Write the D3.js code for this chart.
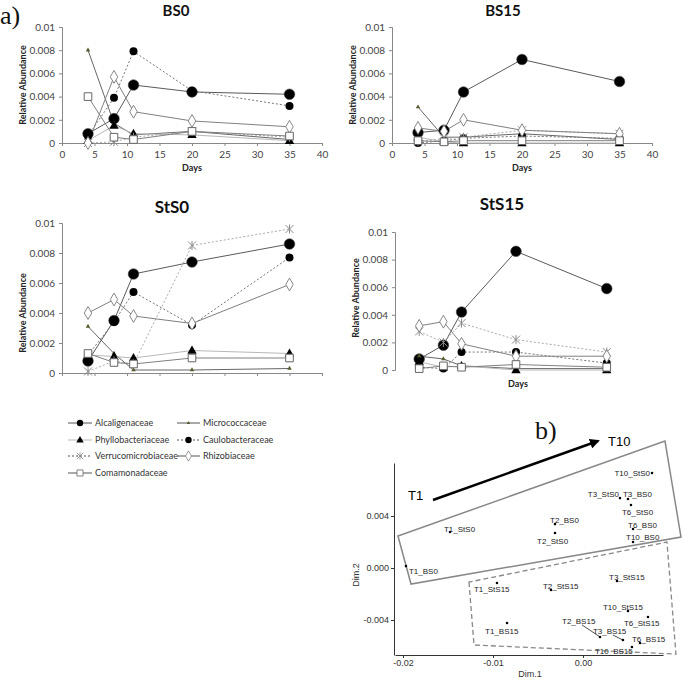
<!DOCTYPE html>
<html><head><meta charset="utf-8">
<script src="https://cdn.jsdelivr.net/npm/d3@7"></script>
<style>body{margin:0;background:#fff} svg{display:block}</style>
</head><body>
<svg id="c" width="685" height="678"></svg>
<script>
// ---------- DATA (panel a) ----------
const days = [4, 8, 11, 20, 35];
const families = ["Alcaligenaceae","Micrococcaceae","Phyllobacteriaceae","Caulobacteraceae","Verrucomicrobiaceae","Rhizobiaceae","Comamonadaceae"];
const bs0 = [
  [0.0008,0.0021,0.0050,0.0044,0.0042],
  [0.0080,0.0017,0.0007,0.0010,0.0003],
  [0.0002,0.0015,0.0008,0.0007,0.0002],
  [0.0006,0.0039,0.0079,0.0045,0.0032],
  [0.0000,0.0001,0.0005,0.0010,0.0005],
  [0.0000,0.0057,0.0027,0.0019,0.0014],
  [0.0040,0.0005,0.0003,0.0010,0.0006]
];
const bs15 = [
  [0.0009,0.0011,0.0044,0.0072,0.0053],
  [0.0031,0.0005,0.0005,0.0008,0.0003],
  [0.0005,0.0001,0.0000,0.0000,0.0000],
  [0.0000,0.0002,0.0004,0.0006,0.0004],
  [0.0001,0.0004,0.0005,0.0011,0.0008],
  [0.0013,0.0010,0.0020,0.0011,0.0008],
  [0.0002,0.0001,0.0002,0.0002,0.0002]
];
const sts0 = [
  [0.0008,0.0035,0.0066,0.0074,0.0086],
  [0.0031,0.0013,0.0002,0.0002,0.0003],
  [0.0012,0.0011,0.0010,0.0015,0.0013],
  [0.0012,0.0034,0.0054,0.0032,0.0077],
  [0.0001,0.0008,0.0006,0.0085,0.0096],
  [0.0040,0.0049,0.0038,0.0033,0.0059],
  [0.0013,0.0007,0.0006,0.0010,0.0010]
];
const sts15 = [
  [0.0008,0.0018,0.0042,0.0086,0.0059],
  [0.0010,0.0008,0.0003,0.0001,0.0001],
  [0.0006,0.0002,0.0003,0.0000,0.0000],
  [0.0002,0.0001,0.0013,0.0013,0.0005],
  [0.0028,0.0020,0.0034,0.0022,0.0013],
  [0.0032,0.0035,0.0019,0.0010,0.0010],
  [0.0001,0.0003,0.0002,0.0004,0.0002]
];
const xTicks = [0,5,10,15,20,25,30,35,40];
const yTicks = [0,0.002,0.004,0.006,0.008,0.01];
const yTickLabels = ["0","0.002","0.004","0.006","0.008","0.01"];

// ---------- DATA (panel b) ----------
const pcoaNames = ["T10_StS0","T3_StS0","T3_BS0","T6_StS0","T2_BS0","T1_StS0","T2_StS0","T6_BS0","T10_BS0","T1_BS0",
  "T3_StS15","T1_StS15","T2_StS15","T10_StS15","T6_StS15","T1_BS15","T2_BS15","T3_BS15","T6_BS15","T10_BS15"];
const pcoaDim1 = [0.00767,0.00411,0.00500,0.00533,-0.00311,-0.01478,-0.00311,0.00556,0.00556,-0.01967,
  0.00378,-0.00956,-0.00356,0.00500,0.00722,-0.00844,0.00189,0.00444,0.00633,0.00544];
const pcoaDim2 = [0.00731,0.00538,0.00531,0.00485,0.00338,0.00277,0.00269,0.00300,0.00200,0.00015,
  -0.00100,-0.00115,-0.00169,-0.00331,-0.00377,-0.00423,-0.00530,-0.00554,-0.00577,-0.00608];
const bXTicks = [-0.02,-0.01,0.00];
const bXTickLabels = ["-0.02","-0.01","0.00"];
const bYTicks = [-0.004,0.000,0.004];
const bYTickLabels = ["-0.004","0.000","0.004"];

// ---------- STYLE ----------
const styles = [
  {line:"#5a5a5a", dash:null,  marker:"bigcircle"},
  {line:"#666",    dash:null,  marker:"tinytri"},
  {line:"#b8b8b8", dash:null,  marker:"tri"},
  {line:"#777",    dash:"2,2", marker:"circle"},
  {line:"#aaa",    dash:"2,2", marker:"star"},
  {line:"#808080", dash:null,  marker:"diamond"},
  {line:"#808080", dash:null,  marker:"square"}
];
const svg = d3.select("#c");
const sans = "Lato, 'Open Sans', 'Liberation Sans', sans-serif";

function drawMarker(g, type, x, y) {
  if (type === "bigcircle") g.append("circle").attr("cx",x).attr("cy",y).attr("r",5.3).attr("fill","#000").attr("stroke","#444").attr("stroke-width",0.6);
  else if (type === "circle") g.append("circle").attr("cx",x).attr("cy",y).attr("r",4).attr("fill","#000");
  else if (type === "tri") g.append("path").attr("d",d3.symbol(d3.symbolTriangle,38)()).attr("transform",`translate(${x},${y+0.5})`).attr("fill","#000");
  else if (type === "tinytri") g.append("path").attr("d",d3.symbol(d3.symbolTriangle,9)()).attr("transform",`translate(${x},${y})`).attr("fill","#5b5a2c");
  else if (type === "diamond") g.append("path").attr("d",d3.symbol(d3.symbolDiamond,48)()).attr("transform",`translate(${x},${y})`).attr("fill","#fff").attr("stroke","#7a7a7a").attr("stroke-width",0.9);
  else if (type === "square") g.append("path").attr("d",d3.symbol(d3.symbolSquare,58)()).attr("transform",`translate(${x},${y})`).attr("fill","#fff").attr("stroke","#666").attr("stroke-width",1);
  else if (type === "star") {
    const s = 4;
    const p = `M${x-s},${y-s}L${x+s},${y+s}M${x-s},${y+s}L${x+s},${y-s}M${x},${y-s-0.5}L${x},${y+s+0.5}`;
    g.append("path").attr("d",p).attr("stroke","#8a8a8a").attr("stroke-width",1).attr("fill","none");
  }
}

function drawPanel(cfg, values) {
  const x = d3.scaleLinear().domain([0,40]).range([cfg.left, cfg.right]);
  const y = d3.scaleLinear().domain([0,0.01]).range([cfg.bottom, cfg.top]);
  const g = svg.append("g");
  const ya = g.append("g").attr("transform",`translate(${cfg.left},0)`)
    .call(d3.axisLeft(y).tickValues(yTicks).tickFormat((d,i)=>yTickLabels[i]).tickSize(3).tickPadding(4));
  const xa = g.append("g").attr("transform",`translate(0,${cfg.bottom})`)
    .call(d3.axisBottom(x).tickValues(xTicks).tickFormat(cfg.xlabels ? d=>d : "").tickSize(3).tickPadding(cfg.xpad || 5));
  [ya, xa].forEach(a => {
    a.select(".domain").attr("stroke","#888");
    a.selectAll(".tick line").attr("stroke","#888");
    a.selectAll("text").attr("font-family",sans).attr("font-size",cfg.tickFont).attr("fill","#444");
  });
  if (cfg.clipX) {
    svg.append("clipPath").attr("id","clipx").append("rect").attr("x",cfg.left-20).attr("y",cfg.bottom-1).attr("width",cfg.right-cfg.left+40).attr("height",cfg.clipX);
    xa.attr("clip-path","url(#clipx)");
  }
  g.append("text").attr("x",cfg.tx).attr("y",cfg.ty).attr("text-anchor","middle").attr("font-family",sans)
    .attr("font-weight","bold").attr("font-size",cfg.titleSize).attr("fill","#111").text(cfg.title);
  g.append("text").attr("transform",`translate(${cfg.yl[0]},${cfg.yl[1]}) rotate(-90)`).attr("text-anchor","middle")
    .attr("font-family",sans).attr("font-weight","bold").attr("font-size",9).attr("fill","#222").text("Relative Abundance");
  if (cfg.days) g.append("text").attr("x",cfg.days[0]).attr("y",cfg.days[1]).attr("text-anchor","middle")
    .attr("font-family",sans).attr("font-weight","bold").attr("font-size",9).attr("fill","#222").text("Days");
  const line = d3.line().x((d,i)=>x(days[i])).y(d=>y(d));
  values.forEach((vals, si) => {
    const st = styles[si];
    g.append("path").attr("d",line(vals)).attr("fill","none").attr("stroke",st.line).attr("stroke-width",1)
      .attr("stroke-dasharray",st.dash);
  });
  values.forEach((vals, si) => {
    vals.forEach((v,i) => drawMarker(g, styles[si].marker, x(days[i]), y(v)));
  });
}

drawPanel({title:"BS0", tx:176, ty:16, titleSize:15, left:62, right:322, top:27, bottom:143, yl:[26,85], xlabels:true, days:[192,171], tickFont:10}, bs0);
drawPanel({title:"BS15", tx:503, ty:16, titleSize:15, left:392, right:652, top:27, bottom:143, yl:[356,85], xlabels:true, days:[522,171], tickFont:10}, bs15);
drawPanel({title:"StS0", tx:172, ty:213, titleSize:17, left:62, right:322, top:223, bottom:373, yl:[26,313], xlabels:false, days:null, tickFont:10}, sts0);
drawPanel({title:"StS15", tx:502, ty:210, titleSize:17, left:395, right:637, top:232, bottom:370, yl:[359,298], xlabels:true, xpad:3, clipX:10, days:[518,387], tickFont:10}, sts15);

// panel labels
svg.append("text").attr("x",0).attr("y",24).attr("font-family","'Liberation Serif', serif").attr("font-size",26).attr("fill","#111").text("a)");
svg.append("text").attr("x",535).attr("y",439).attr("font-family","'Liberation Serif', serif").attr("font-size",26).attr("fill","#111").text("b)");

// legend
const legCols = [[68,92,95],[177,200,203]];
const legRows = [423,440,456,473];
families.forEach((f, i) => {
  const c = legCols[i % 2], r = legRows[Math.floor(i / 2)];
  const st = styles[i];
  const lg = svg.append("g");
  lg.append("line").attr("x1",c[0]).attr("x2",c[1]).attr("y1",r).attr("y2",r).attr("stroke",st.line === "#b8b8b8" ? "#b8b8b8" : "#555")
    .attr("stroke-width",1).attr("stroke-dasharray",st.dash);
  const mt = st.marker === "bigcircle" ? "circle" : st.marker;
  const sg = lg.append("g").attr("transform",`translate(${(c[0]+c[1])/2},${r}) scale(0.8) translate(${-(c[0]+c[1])/2},${-r})`);
  drawMarker(sg, mt, (c[0]+c[1])/2, r);
  lg.append("text").attr("x",c[2]).attr("y",r+3.3).attr("font-family",sans).attr("font-size",9).attr("fill","#333").text(f);
});

// ---------- panel b ----------
const xB = d3.scaleLinear().domain([-0.02089, 0.00889]).range([395, 663]);
const yB = d3.scaleLinear().domain([-0.00669, 0.00808]).range([655, 463]);
const gb = svg.append("g");
const bxa = gb.append("g").attr("transform","translate(0,655)")
  .call(d3.axisBottom(xB).tickValues(bXTicks).tickFormat((d,i)=>bXTickLabels[i]).tickSize(3).tickPadding(2).tickSizeOuter(0));
const bya = gb.append("g").attr("transform","translate(394,0)")
  .call(d3.axisLeft(yB).tickValues(bYTicks).tickFormat((d,i)=>bYTickLabels[i]).tickSize(3).tickPadding(2).tickSizeOuter(0));
[bxa,bya].forEach(a=>{
  a.select(".domain").attr("stroke","#333");
  a.selectAll(".tick line").attr("stroke","#333");
  a.selectAll("text").attr("font-family","'Liberation Sans', Arial, sans-serif").attr("font-size",9).attr("fill","#333");
});
gb.append("text").attr("x",530).attr("y",677).attr("text-anchor","middle").attr("font-family","'Liberation Sans', Arial, sans-serif").attr("font-size",9).attr("fill","#333").text("Dim.1");
gb.append("text").attr("transform","translate(359,575) rotate(-90)").attr("text-anchor","middle").attr("font-family","'Liberation Sans', Arial, sans-serif").attr("font-size",9).attr("fill","#333").text("Dim.2");

// group boxes (annotations in data coordinates)
const solidBox = [[-0.02056,0.00246],[-0.01911,-0.00123],[0.01089,0.00238],[0.00911,0.00977]];
const dashBox = [[-0.01267,-0.00108],[-0.01211,-0.00592],[0.01033,-0.00662],[0.00933,0.00200]];
gb.append("path").attr("d", d3.line().x(d=>xB(d[0])).y(d=>yB(d[1])).curve(d3.curveLinearClosed)(solidBox))
  .attr("fill","none").attr("stroke","#888").attr("stroke-width",1.5);
gb.append("path").attr("d", d3.line().x(d=>xB(d[0])).y(d=>yB(d[1])).curve(d3.curveLinearClosed)(dashBox))
  .attr("fill","none").attr("stroke","#888").attr("stroke-width",1.3).attr("stroke-dasharray","5,3");

// arrow T1 -> T10
svg.append("defs").append("marker").attr("id","ah").attr("viewBox","0 0 10 10").attr("refX",8).attr("refY",5)
  .attr("markerWidth",4).attr("markerHeight",4).attr("orient","auto")
  .append("path").attr("d","M0,0L10,5L0,10z").attr("fill","#000");
gb.append("line").attr("x1",433).attr("y1",500).attr("x2",598).attr("y2",441).attr("stroke","#000").attr("stroke-width",2.5).attr("marker-end","url(#ah)");
gb.append("text").attr("x",408).attr("y",500).attr("font-family","'Liberation Sans', Arial, sans-serif").attr("font-size",13).attr("fill","#000").text("T1");
gb.append("text").attr("x",608).attr("y",446).attr("font-family","'Liberation Sans', Arial, sans-serif").attr("font-size",13).attr("fill","#000").text("T10");

// label offsets (layout only)
const labelOffsets = [[-2,3,"end"],[-1,-1,"end"],[-5,-2,"start"],[-9,10,"start"],[-5,-1,"start"],[-6,0,"start"],[-18,11,"start"],[-5,-1,"start"],[-7,-2,"start"],[3,8,"start"],
  [-8,-1,"start"],[-23,9,"start"],[-8,-1,"start"],[-25,-1,"start"],[-24,9,"start"],[-22,11,"start"],[-38,-13,"start"],[-30,-6,"start"],[-8,-1,"start"],[-37,7,"start"]];
const leaders = {"T2_BS15":[-18,-12],"T3_BS15":[-10,-5]};
pcoaNames.forEach((n,i)=>{
  const px = xB(pcoaDim1[i]), py = yB(pcoaDim2[i]);
  if (leaders[n]) gb.append("line").attr("x1",px+leaders[n][0]).attr("y1",py+leaders[n][1]).attr("x2",px).attr("y2",py).attr("stroke","#222").attr("stroke-width",0.8);
  gb.append("circle").attr("cx",px).attr("cy",py).attr("r",1.3).attr("fill","#000");
  const o = labelOffsets[i];
  gb.append("text").attr("x",px+o[0]).attr("y",py+o[1]).attr("text-anchor",o[2]).attr("font-family","'Liberation Sans', Arial, sans-serif")
    .attr("font-size",8).attr("fill","#222").text(n);
});
</script>
</body></html>
